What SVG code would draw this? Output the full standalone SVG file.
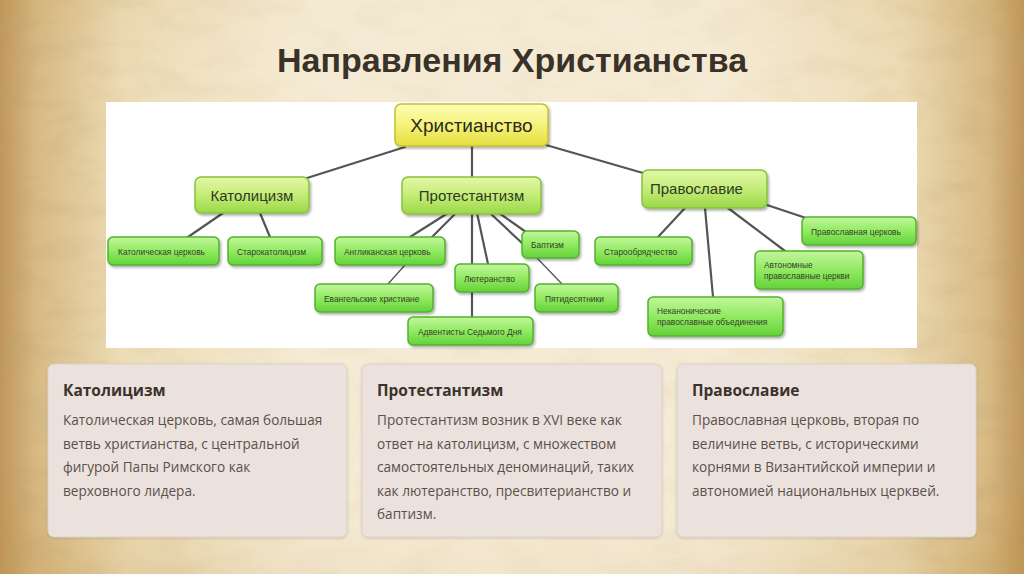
<svg xmlns="http://www.w3.org/2000/svg" width="1024" height="574" viewBox="0 0 1024 574">
<defs>
<linearGradient id="bgH" x1="0" y1="0" x2="1" y2="0">
<stop offset="0" stop-color="#b98c4e"/>
<stop offset="0.035" stop-color="#d6b77e"/>
<stop offset="0.12" stop-color="#eddcb5"/>
<stop offset="0.3" stop-color="#f5ebd4"/>
<stop offset="0.7" stop-color="#f5ebd4"/>
<stop offset="0.88" stop-color="#eddcb5"/>
<stop offset="0.965" stop-color="#d6b77e"/>
<stop offset="1" stop-color="#b98c4e"/>
</linearGradient>
<radialGradient id="bgR" cx="0.5" cy="0.45" r="0.7">
<stop offset="0.55" stop-color="#f6eedb" stop-opacity="0"/>
<stop offset="1" stop-color="#c9a465" stop-opacity="0.35"/>
</radialGradient>
<linearGradient id="edgeMaskG" x1="0" y1="0" x2="1" y2="0">
<stop offset="0" stop-color="#fff"/>
<stop offset="0.1" stop-color="#fff" stop-opacity="0.5"/>
<stop offset="0.25" stop-color="#fff" stop-opacity="0.25"/>
<stop offset="0.75" stop-color="#fff" stop-opacity="0.25"/>
<stop offset="0.9" stop-color="#fff" stop-opacity="0.5"/>
<stop offset="1" stop-color="#fff"/>
</linearGradient>
<mask id="edgeMask"><rect width="1024" height="574" fill="url(#edgeMaskG)"/></mask>
<filter id="noise" x="0" y="0" width="100%" height="100%">
<feTurbulence type="fractalNoise" baseFrequency="0.02 0.05" numOctaves="4" seed="3"/>
<feColorMatrix type="matrix" values="0 0 0 0 0.5  0 0 0 0 0.36  0 0 0 0 0.16  0 0 0 1.2 -0.55"/>
</filter>
<linearGradient id="gRoot" x1="0" y1="0" x2="0" y2="1">
<stop offset="0" stop-color="#fdfdb8"/>
<stop offset="0.5" stop-color="#f5f27a"/>
<stop offset="1" stop-color="#e4de3e"/>
</linearGradient>
<linearGradient id="gL2" x1="0" y1="0" x2="0" y2="1">
<stop offset="0" stop-color="#e4f8a8"/>
<stop offset="0.5" stop-color="#c3ec78"/>
<stop offset="1" stop-color="#9cd848"/>
</linearGradient>
<linearGradient id="gL3" x1="0" y1="0" x2="0" y2="1">
<stop offset="0" stop-color="#c2f69c"/>
<stop offset="0.5" stop-color="#92ea62"/>
<stop offset="1" stop-color="#64d23a"/>
</linearGradient>
<filter id="sh" x="-10%" y="-10%" width="125%" height="140%">
<feDropShadow dx="1.5" dy="2" stdDeviation="1.2" flood-color="#000" flood-opacity="0.3"/>
</filter>
<filter id="cardSh" x="-5%" y="-5%" width="110%" height="110%">
<feDropShadow dx="0" dy="1" stdDeviation="1" flood-color="#6b5a40" flood-opacity="0.25"/>
</filter>
</defs>
<style>
.root{fill:url(#gRoot);stroke:#c9bd2c;stroke-width:1.5;filter:url(#sh)}
.l2{fill:url(#gL2);stroke:#88c23c;stroke-width:1.5;filter:url(#sh)}
.l3{fill:url(#gL3);stroke:#52b22c;stroke-width:1.5;filter:url(#sh)}
.t1{font-family:"Liberation Sans",Arial,sans-serif;font-size:19px;fill:#2a2a20}
.t2{font-family:"Liberation Sans",Arial,sans-serif;font-size:15px;fill:#2f3a22}
.t3{font-family:"Liberation Sans",Arial,sans-serif;font-size:8.4px;fill:#33402a}
.c{stroke:#555;stroke-width:2.2;fill:none;stroke-linecap:round}
.cth{stroke:#555;stroke-width:1.3;fill:none;stroke-linecap:round}
.card{fill:#ebe2de;stroke:#ddd2cc;stroke-width:1;filter:url(#cardSh)}
.ch{font-family:"Open Sans","Noto Sans",sans-serif;font-size:15.5px;font-weight:bold;fill:#3b322d}
.cb{font-family:"Open Sans","Noto Sans",sans-serif;font-size:13.6px;fill:#5b504a}
</style>
<rect width="1024" height="574" fill="url(#bgH)"/>
<rect width="1024" height="574" fill="url(#bgR)"/>
<g mask="url(#edgeMask)"><rect width="1024" height="574" filter="url(#noise)" opacity="0.6"/></g>
<text x="512" y="72" text-anchor="middle" font-family="'Liberation Sans',Arial,sans-serif" font-size="34" font-weight="bold" fill="#3a3128">Направления Христианства</text>
<rect x="106" y="102" width="811" height="246" fill="#ffffff"/>
<g id="connectors">
<line class="c" x1="405" y1="147" x2="307" y2="178"/>
<line class="c" x1="472" y1="146" x2="472" y2="177"/>
<line class="c" x1="546" y1="145" x2="643" y2="173"/>
<line class="c" x1="223" y1="213" x2="188" y2="237"/>
<line class="c" x1="260" y1="213" x2="270" y2="237"/>
<line class="c" x1="448" y1="213" x2="410" y2="237"/>
<line class="c" x1="456" y1="213" x2="432" y2="237"/>
<line class="cth" x1="405" y1="265" x2="388" y2="284"/>
<line class="c" x1="472" y1="213" x2="472" y2="317"/>
<line class="c" x1="477" y1="213" x2="488" y2="264"/>
<line class="c" x1="490" y1="213" x2="523" y2="244"/>
<line class="c" x1="499" y1="213" x2="526" y2="232"/>
<line class="cth" x1="537" y1="258" x2="562" y2="284"/>
<line class="c" x1="685" y1="208" x2="658" y2="237"/>
<line class="c" x1="705" y1="208" x2="713" y2="297"/>
<line class="c" x1="728" y1="208" x2="785" y2="251"/>
<line class="c" x1="764" y1="204" x2="806" y2="218"/>
</g>
<g id="n-root"><rect class="root" x="395" y="104" width="153" height="42" rx="6"/><text class="t1" x="471.5" y="132" text-anchor="middle">Христианство</text></g>
<g id="n-cath"><rect class="l2" x="195" y="177" width="114" height="36" rx="6"/><text class="t2" x="252" y="200.5" text-anchor="middle">Католицизм</text></g>
<g id="n-prot"><rect class="l2" x="402" y="177" width="139" height="37" rx="6"/><text class="t2" x="471.5" y="201" text-anchor="middle">Протестантизм</text></g>
<g id="n-orth"><rect class="l2" x="642" y="170" width="125" height="38" rx="6"/><text class="t2" x="650" y="194">Православие</text></g>
<g id="n-catchurch"><rect class="l3" x="108" y="237" width="111" height="28" rx="5"/><text class="t3" x="118" y="254.5">Католическая церковь</text></g>
<g id="n-oldcath"><rect class="l3" x="228" y="237" width="94" height="28" rx="5"/><text class="t3" x="237" y="254.5">Старокатолицизм</text></g>
<g id="n-anglican"><rect class="l3" x="335" y="237" width="110" height="28" rx="5"/><text class="t3" x="344" y="254.5">Англиканская церковь</text></g>
<g id="n-evang"><rect class="l3" x="315" y="284" width="118" height="28" rx="5"/><text class="t3" x="324" y="301.5">Евангельские христиане</text></g>
<g id="n-luth"><rect class="l3" x="455" y="264" width="74" height="28" rx="5"/><text class="t3" x="464" y="281.5">Лютеранство</text></g>
<g id="n-advent"><rect class="l3" x="408" y="317" width="125" height="28" rx="5"/><text class="t3" x="418" y="334.5">Адвентисты Седьмого Дня</text></g>
<g id="n-bapt"><rect class="l3" x="522" y="231" width="57" height="27" rx="5"/><text class="t3" x="531" y="248">Баптизм</text></g>
<g id="n-pent"><rect class="l3" x="535" y="284" width="83" height="28" rx="5"/><text class="t3" x="545" y="301.5">Пятидесятники</text></g>
<g id="n-oldbel"><rect class="l3" x="595" y="237" width="97" height="28" rx="5"/><text class="t3" x="604" y="254.5">Старообрядчество</text></g>
<g id="n-noncanon"><rect class="l3" x="648" y="297" width="135" height="39" rx="5"/><text class="t3" x="657" y="314">Неканонические</text><text class="t3" x="657" y="325">православные объединения</text></g>
<g id="n-autonom"><rect class="l3" x="755" y="251" width="108" height="38" rx="5"/><text class="t3" x="764" y="268">Автономные</text><text class="t3" x="764" y="279">православные церкви</text></g>
<g id="n-orthchurch"><rect class="l3" x="802" y="217" width="114" height="28" rx="5"/><text class="t3" x="811" y="234.5">Православная церковь</text></g>
<g id="card-cath"><rect class="card" x="48" y="364" width="299" height="173" rx="6"/>
<text class="ch" x="63" y="396">Католицизм</text>
<text class="cb" x="63" y="425">Католическая церковь, самая большая</text>
<text class="cb" x="63" y="448.5">ветвь христианства, с центральной</text>
<text class="cb" x="63" y="472">фигурой Папы Римского как</text>
<text class="cb" x="63" y="495.5">верховного лидера.</text></g>
<g id="card-prot"><rect class="card" x="362" y="364" width="300" height="173" rx="6"/>
<text class="ch" x="377" y="396">Протестантизм</text>
<text class="cb" x="377" y="425">Протестантизм возник в XVI веке как</text>
<text class="cb" x="377" y="448.5">ответ на католицизм, с множеством</text>
<text class="cb" x="377" y="472">самостоятельных деноминаций, таких</text>
<text class="cb" x="377" y="495.5">как лютеранство, пресвитерианство и</text>
<text class="cb" x="377" y="519">баптизм.</text></g>
<g id="card-orth"><rect class="card" x="677" y="364" width="299" height="173" rx="6"/>
<text class="ch" x="692" y="396">Православие</text>
<text class="cb" x="692" y="425">Православная церковь, вторая по</text>
<text class="cb" x="692" y="448.5">величине ветвь, с историческими</text>
<text class="cb" x="692" y="472">корнями в Византийской империи и</text>
<text class="cb" x="692" y="495.5">автономией национальных церквей.</text></g>
</svg>
